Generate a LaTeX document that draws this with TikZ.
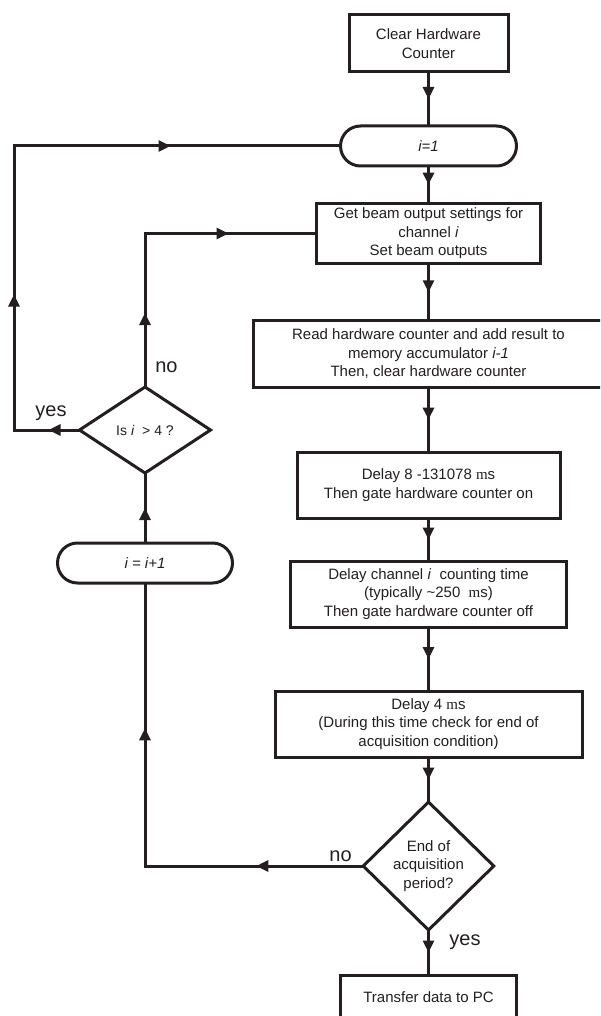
\documentclass[tikz,border=0pt]{standalone}
\usepackage{fontspec}
\setmainfont{Liberation Sans}
\newfontfamily\serifm{Liberation Serif}
\usetikzlibrary{shapes.geometric,arrows.meta,decorations.markings}
\definecolor{ink}{HTML}{231F20}
\newcommand{\mus}{{\serifm m}s}
\newcommand{\arrtip}{\arrow{Triangle[length=12pt,width=11pt]}}
\tikzset{
  every node/.style={outer sep=0pt, text=ink},
  txt/.style={font=\fontsize{15}{18.5}\selectfont},
  stepbox/.style={draw=ink, line width=3pt, rectangle, inner sep=0pt, align=center, txt},
  term/.style={draw=ink, line width=3pt, rectangle, rounded corners=20pt, inner sep=0pt, align=center, txt},
  decision/.style={draw=ink, line width=3pt, diamond, inner sep=0pt, align=center, txt},
  flow/.style={draw=ink, line width=3pt, line join=miter},
  midarr/.style={postaction={decorate}, decoration={markings, mark=at position 0.5 with {\arrtip}}},
  lbl/.style={font=\fontsize{20}{24}\selectfont, anchor=base}
}
\begin{document}
\begin{tikzpicture}[x=1pt,y=-1pt]
\useasboundingbox (0,0) rectangle (600,1016);
\clip (0,0) rectangle (600,1016);
\fill[white] (0,0) rectangle (600,1016);

% main column
\node[stepbox, minimum width=159pt, minimum height=57pt] (clear) at (428.5,43.5) {Clear Hardware\\Counter};
\node[term, minimum width=176pt, minimum height=40pt] (init) at (428.5,146) {\textit{i=1}};
\node[stepbox, minimum width=224pt, minimum height=60.5pt] (beam) at (428.5,233.5) {Get beam output settings for\\channel \textit{i}\\Set beam outputs};
\node[stepbox, minimum width=351pt, minimum height=66.5pt] (read) at (428.5,354) {Read hardware counter and add result to\\memory accumulator \textit{i-1}\\Then, clear hardware counter};
\node[stepbox, minimum width=263pt, minimum height=66pt] (dly8) at (428.5,485) {Delay 8 -131078 \mus\\Then gate hardware counter on};
\node[stepbox, minimum width=275.5pt, minimum height=66pt] (dlych) at (428.5,594) {Delay channel \textit{i}\ \ counting time\\(typically \textasciitilde250\ \ \mus)\\Then gate hardware counter off};
\node[stepbox, minimum width=307pt, minimum height=66pt] (dly4) at (428.5,724) {Delay 4 \mus\\(During this time check for end of\\acquisition condition)};
\node[decision, minimum width=130.5pt, minimum height=128pt] (endd) at (428.5,866) {End of\\acquisition\\period?};
\node[stepbox, minimum width=176pt, minimum height=45pt] (xfer) at (428.5,997.5) {Transfer data to PC};

% left column
\node[decision, minimum width=131pt, minimum height=86pt, font=\fontsize{14}{17}\selectfont] (isd) at (145,430) {Is \textit{i}\ \ > 4 ?};
\node[term, minimum width=175pt, minimum height=40pt] (incr) at (145,563) {\textit{i = i+1}};

% straight connectors
\draw[flow, midarr] (clear.south) -- (init.north);
\draw[flow, midarr] (init.south) -- (beam.north);
\draw[flow, midarr] (beam.south) -- (read.north);
\draw[flow, midarr] (read.south) -- (dly8.north);
\draw[flow, midarr] (dly8.south) -- (dlych.north);
\draw[flow, midarr] (dlych.south) -- (dly4.north);
\draw[flow, midarr] (dly4.south) -- (endd.north);
\draw[flow, midarr] (endd.south) -- (xfer.north);
\draw[flow, midarr] (incr.north) -- (isd.south);

% loops
\coordinate (yl) at (14,430);
\coordinate (yt) at (14,146);
\draw[flow, postaction={decorate}, decoration={markings,
   mark=at position 31pt with {\arrtip},
   mark=at position 201pt with {\arrtip},
   mark=at position 506pt with {\arrtip}}]
  (isd.west) -- (yl) -- (yt) -- (init.west);

\coordinate (nl) at (145,233.5);
\draw[flow, postaction={decorate}, decoration={markings,
   mark=at position 74pt with {\arrtip},
   mark=at position 237pt with {\arrtip}}]
  (isd.north) -- (nl) -- (beam.west);

\coordinate (el) at (145,866);
\draw[flow, postaction={decorate}, decoration={markings,
   mark=at position 107pt with {\arrtip},
   mark=at position 356pt with {\arrtip}}]
  (endd.west) -- (el) -- (incr.south);

% labels
\node[lbl] (no1) at (166.5,372) {no};
\node[lbl] (yes1) at (51,416) {yes};
\node[lbl] (no2) at (340.5,861) {no};
\node[lbl] (yes2) at (465,945) {yes};
\end{tikzpicture}
\end{document}
